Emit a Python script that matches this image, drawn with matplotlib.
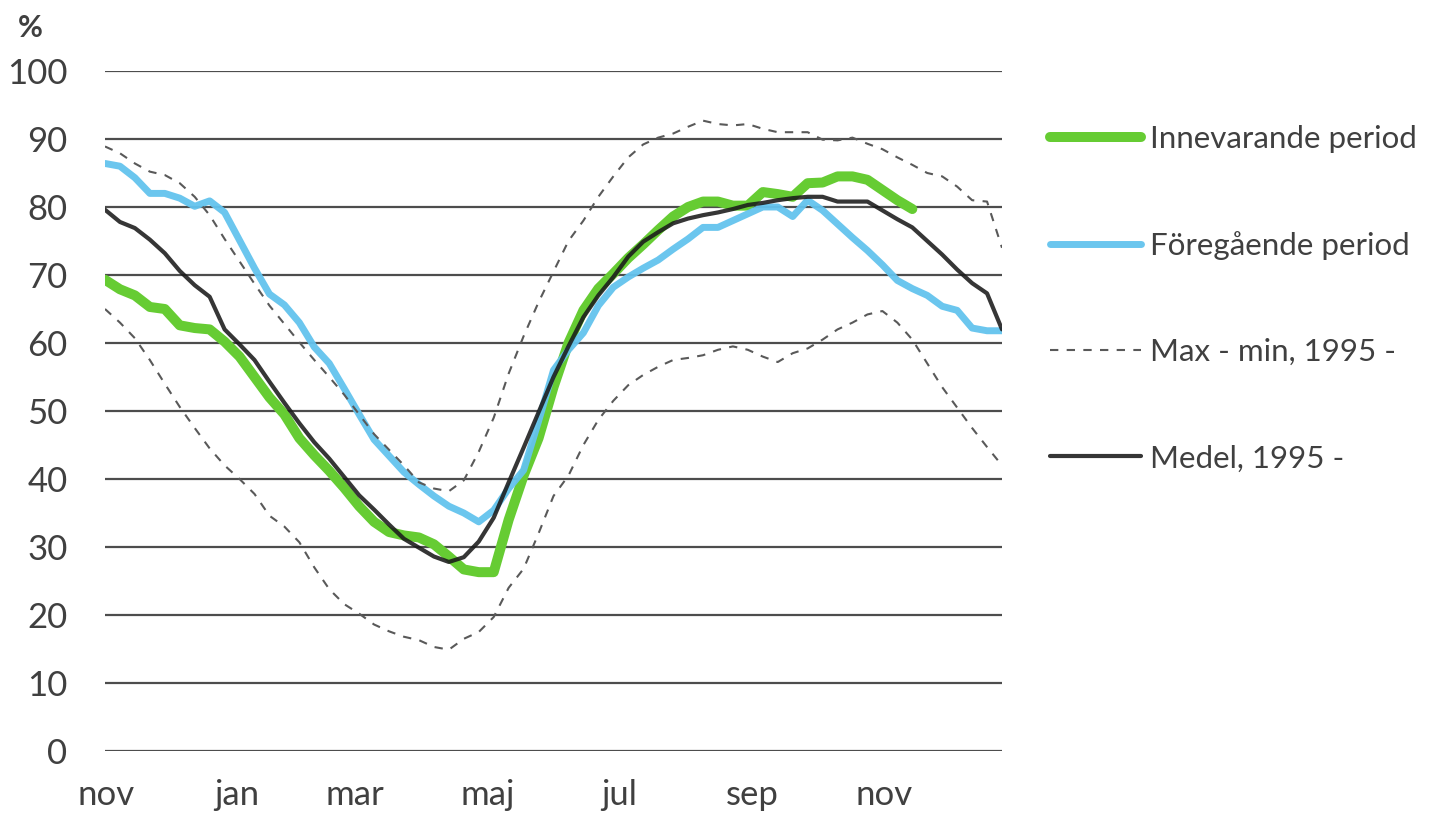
import matplotlib
matplotlib.use('Agg')
import matplotlib.pyplot as plt
import numpy as np

plt.rcParams['font.family'] = ['Lato', 'DejaVu Sans']

TEXT_COLOR = '#404040'

# weekly fill level, %, starting week of November
current = [69.3, 67.9, 67.0, 65.3, 65.0, 62.6, 62.2, 62.0, 60.2, 58.0,
           55.0, 52.0, 49.5, 46.0, 43.5, 41.2, 38.7, 36.0, 33.7, 32.2,
           31.7, 31.4, 30.4, 28.6, 26.7, 26.3, 26.3, 34.0, 40.5, 46.0,
           53.5, 60.0, 64.8, 68.0, 70.2, 72.5, 74.5, 76.6, 78.6, 80.0,
           80.8, 80.8, 80.2, 80.2, 82.2, 81.9, 81.5, 83.5, 83.6, 84.5,
           84.5, 84.0, 82.5, 81.0, 79.7]
previous = [86.4, 86.0, 84.3, 82.0, 82.0, 81.3, 80.1, 80.9, 79.2, 75.1,
            71.0, 67.2, 65.6, 63.0, 59.4, 57.0, 53.3, 49.5, 45.8, 43.4,
            41.0, 39.2, 37.5, 36.0, 35.0, 33.7, 35.4, 38.6, 41.3, 48.5,
            56.0, 59.0, 61.5, 65.5, 68.2, 69.7, 71.0, 72.2, 73.8, 75.3,
            77.0, 77.0, 78.0, 79.0, 80.0, 80.0, 78.6, 81.0, 79.5, 77.5,
            75.5, 73.6, 71.5, 69.2, 68.0, 67.0, 65.4, 64.8, 62.2, 61.8,
            61.8]
mean = [79.6, 77.8, 76.9, 75.2, 73.2, 70.6, 68.5, 66.8, 62.0, 59.8,
        57.5, 54.3, 51.2, 48.2, 45.4, 43.0, 40.3, 37.6, 35.5, 33.3,
        31.2, 29.9, 28.6, 27.8, 28.5, 30.8, 34.3, 39.5, 44.6, 49.8,
        55.0, 59.5, 63.8, 67.0, 69.7, 72.7, 74.9, 76.3, 77.6, 78.3,
        78.8, 79.2, 79.7, 80.3, 80.6, 81.0, 81.3, 81.5, 81.5, 80.8,
        80.8, 80.8, 79.5, 78.2, 77.0, 75.0, 73.0, 70.8, 68.8, 67.3,
        62.0]
maximum = [88.9, 87.9, 86.4, 85.2, 84.7, 83.5, 81.5, 78.8, 75.3, 72.0,
           68.7, 65.5, 62.8, 60.1, 57.5, 55.0, 52.4, 49.5, 46.6, 44.3,
           42.0, 39.5, 38.6, 38.2, 39.8, 44.0, 49.0, 55.5, 61.0, 66.0,
           70.5, 75.0, 78.0, 81.5, 84.5, 87.3, 89.2, 90.2, 90.8, 91.8,
           92.7, 92.2, 92.0, 92.2, 91.5, 91.0, 91.0, 91.0, 89.9, 89.8,
           90.2, 89.3, 88.5, 87.3, 86.2, 85.0, 84.5, 83.0, 81.0, 80.8,
           74.0]
minimum = [65.0, 63.0, 60.7, 57.5, 54.0, 50.6, 47.5, 44.5, 42.0, 40.0,
           37.8, 34.6, 33.0, 30.7, 27.0, 23.8, 21.6, 20.2, 18.6, 17.6,
           16.8, 16.3, 15.3, 14.9, 16.5, 17.5, 19.7, 24.0, 26.8, 32.0,
           37.5, 40.5, 45.0, 48.7, 51.5, 53.8, 55.3, 56.5, 57.5, 57.8,
           58.2, 59.0, 59.5, 59.0, 58.0, 57.2, 58.5, 59.2, 60.5, 62.0,
           63.0, 64.2, 64.7, 63.0, 60.5, 57.0, 53.5, 50.5, 47.5, 44.7,
           42.0]

month_labels = ['nov', 'jan', 'mar', 'maj', 'jul', 'sep', 'nov']
month_weeks = [0.1, 8.8, 16.7, 25.6, 34.4, 43.3, 52.1]
y_ticks = list(range(0, 101, 10))

weeks = np.arange(len(mean))

fig = plt.figure(figsize=(14.31, 8.13), dpi=100)
ax = fig.add_axes([105 / 1431, 1 - 751 / 813, 897 / 1431, 680 / 813])

ax.plot(np.arange(len(current)), current, color='#66cc33', lw=7.2,
        solid_capstyle='round', solid_joinstyle='round', zorder=3,
        label='Innevarande period')
ax.plot(weeks, previous, color='#63c3ee', lw=5.0, alpha=0.95,
        solid_capstyle='round', solid_joinstyle='round', zorder=4,
        label='Föregående period')
ax.plot(weeks, maximum, color='#595959', lw=1.5, dashes=(4, 4), zorder=5,
        label='Max - min, 1995 -')
ax.plot(weeks, minimum, color='#595959', lw=1.5, dashes=(4, 4), zorder=5)
ax.plot(weeks, mean, color='#1a1a1a', lw=3.0, alpha=0.88,
        solid_capstyle='round', solid_joinstyle='round', zorder=6,
        label='Medel, 1995 -')

ax.set_xlim(0, len(mean) - 1)
ax.set_ylim(0, 100)
ax.set_yticks(y_ticks)
ax.set_xticks(month_weeks)
ax.set_xticklabels(month_labels)
ax.grid(axis='y', color='#4d4d4d', lw=1.6, zorder=1)
ax.set_axisbelow(True)
for s in ax.spines.values():
    s.set_visible(False)
ax.tick_params(axis='both', length=0, labelsize=25, colors=TEXT_COLOR)
ax.tick_params(axis='y', pad=27)
ax.tick_params(axis='x', pad=20)

fig.text(18 / 1431, 1 - 37 / 813, '%', fontsize=22, fontweight='bold',
         color=TEXT_COLOR)

leg = ax.legend(loc='upper left', bbox_to_anchor=(1.040, 0.939), frameon=False,
                fontsize=22.5, handlelength=2.9, handletextpad=0.3,
                labelspacing=2.5, borderaxespad=0)
for t in leg.get_texts():
    t.set_color(TEXT_COLOR)

fig.savefig('out.png', dpi=100)
